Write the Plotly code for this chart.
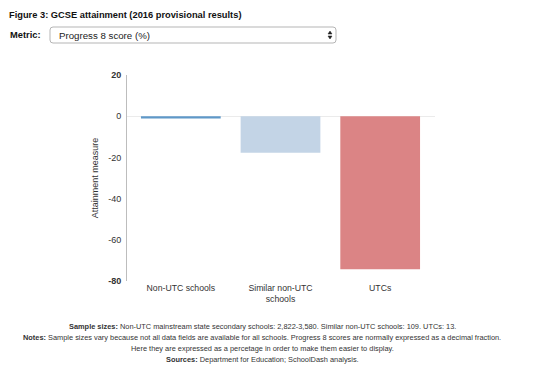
import plotly.graph_objects as go

categories = ["Non-UTC schools", "Similar non-UTC<br>schools", "UTCs"]
values = [-1.1, -17.7, -74.3]
colors = ["#5f98c8", "#c3d4e6", "#db8485"]
tick_vals = [20, 0, -20, -40, -60, -80]
tick_text = ["<b>20</b>", "0", "-20", "-40", "-60", "<b>-80</b>"]

W, H = 550, 372
L, R, T, B = 127, 115, 75, 91
PW, PH = W - L - R, H - T - B

def px(x):
    return (x - L) / PW

def py(y):
    return (H - B - y) / PH

FONT = "Liberation Sans, Arial, sans-serif"

fig = go.Figure(go.Bar(
    x=list(range(len(categories))), y=values,
    marker=dict(color=colors, line=dict(width=0)),
    width=0.8, hoverinfo="y",
))

fig.update_layout(
    width=W, height=H,
    margin=dict(l=L, r=R, t=T, b=B),
    paper_bgcolor="white", plot_bgcolor="white",
    font=dict(family=FONT, size=9, color="#333"),
    showlegend=False,
    xaxis=dict(
        range=[-0.54, 2.55], tickvals=list(range(len(categories))), ticktext=categories,
        showgrid=False, zeroline=False, showline=False, ticks="",
        tickfont=dict(size=8.7, color="#333"), fixedrange=True,
    ),
    yaxis=dict(
        range=[-80, 20], tickvals=tick_vals, ticktext=tick_text,
        showgrid=False, zeroline=True, zerolinecolor="#ebebeb", zerolinewidth=1,
        showline=True, linecolor="#bdbdbd", linewidth=1, ticks="",
        tickfont=dict(size=9, color="#333"), ticklabelstandoff=3,
        title=dict(text="Attainment measure", font=dict(size=9, color="#333"), standoff=8),
        fixedrange=True,
    ),
)

ann = []
ann.append(dict(text="<b>Figure 3: GCSE attainment (2016 provisional results)</b>",
                x=px(7), y=py(15), xref="paper", yref="paper", xanchor="left", yanchor="middle",
                showarrow=False, font=dict(size=9.3, color="#111")))
ann.append(dict(text="<b>Metric:</b>", x=px(8), y=py(35), xref="paper", yref="paper",
                xanchor="left", yanchor="middle", showarrow=False, font=dict(size=9.3, color="#111")))
ann.append(dict(text="Progress 8 score (%)", x=px(57), y=py(35), xref="paper", yref="paper",
                xanchor="left", yanchor="middle", showarrow=False, font=dict(size=9.7, color="#222")))

footer = [
    "<b>Sample sizes:</b> Non-UTC mainstream state secondary schools: 2,822-3,580. Similar non-UTC schools: 109. UTCs: 13.",
    "<b>Notes:</b> Sample sizes vary because not all data fields are available for all schools. Progress 8 scores are normally expressed as a decimal fraction.",
    "Here they are expressed as a percetage in order to make them easier to display.",
    "<b>Sources:</b> Department for Education; SchoolDash analysis.",
]
for i, line in enumerate(footer):
    ann.append(dict(text=line, x=px(262), y=py(326 + 11 * i), xref="paper", yref="paper",
                    xanchor="center", yanchor="middle", showarrow=False,
                    font=dict(size=7.4, color="#333")))
fig.update_layout(annotations=ann)

# select box (rounded rectangle)
x0, x1, y0, y1, r = 50, 336, 27, 43, 3
path = (f"M {px(x0 + r)} {py(y0)} L {px(x1 - r)} {py(y0)} "
        f"Q {px(x1)} {py(y0)} {px(x1)} {py(y0 + r)} L {px(x1)} {py(y1 - r)} "
        f"Q {px(x1)} {py(y1)} {px(x1 - r)} {py(y1)} L {px(x0 + r)} {py(y1)} "
        f"Q {px(x0)} {py(y1)} {px(x0)} {py(y1 - r)} L {px(x0)} {py(y0 + r)} "
        f"Q {px(x0)} {py(y0)} {px(x0 + r)} {py(y0)} Z")
fig.add_shape(type="path", path=path, xref="paper", yref="paper",
              line=dict(color="#b5b5b5", width=1), fillcolor="white", layer="below")
# select arrows
ax = 330
up = f"M {px(ax - 2)} {py(34)} L {px(ax + 2)} {py(34)} L {px(ax)} {py(31)} Z"
dn = f"M {px(ax - 2)} {py(36)} L {px(ax + 2)} {py(36)} L {px(ax)} {py(39)} Z"
for p in (up, dn):
    fig.add_shape(type="path", path=p, xref="paper", yref="paper",
                  line=dict(color="#222", width=0.5), fillcolor="#222")

fig.write_html("out.html", config={"displayModeBar": False},
               post_script="document.body.style.margin='0';")
